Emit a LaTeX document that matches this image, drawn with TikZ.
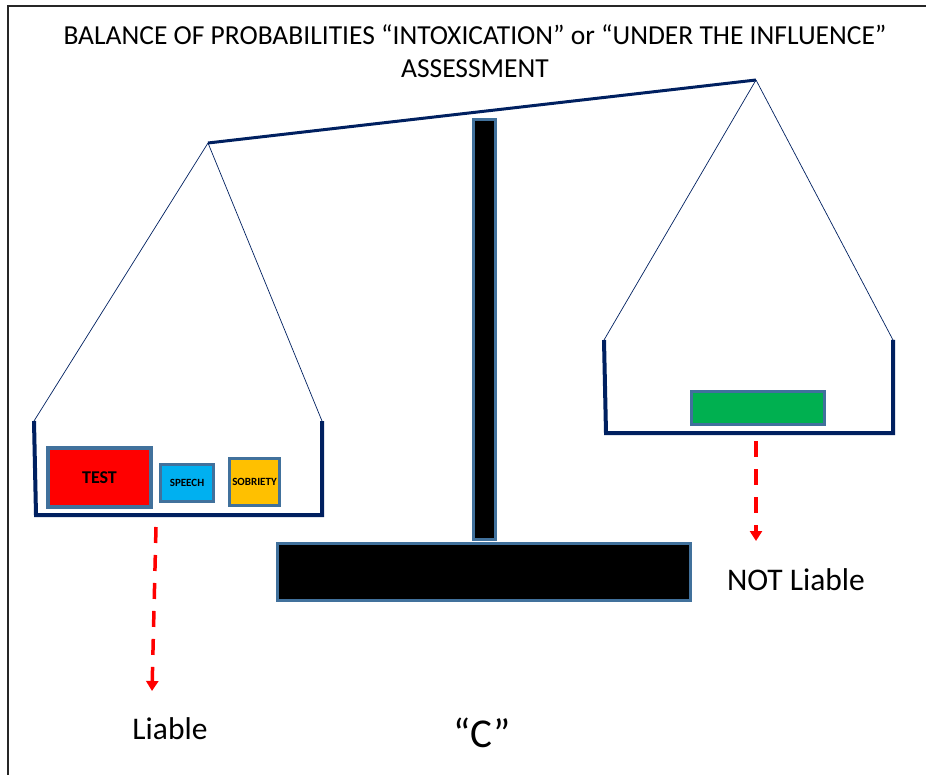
\documentclass[tikz,border=0pt]{standalone}
\usepackage{fontspec}
\setmainfont{Carlito}
\usepackage{xcolor}
\definecolor{navy}{HTML}{002060}
\definecolor{steel}{HTML}{41719C}
\definecolor{wred}{HTML}{FF0000}
\definecolor{wblue}{HTML}{00B0F0}
\definecolor{wgold}{HTML}{FFC000}
\definecolor{wgreen}{HTML}{00B050}
\usetikzlibrary{arrows.meta}
\tikzset{
  frame/.style={draw=black!85,line width=2.5pt},
  beam/.style={draw=navy,line width=3pt},
  cord/.style={draw=navy,line width=0.7pt},
  pan/.style={draw=navy,line width=4pt},
  wt/.style={draw=steel,line width=3pt,inner sep=0pt,font=\bfseries\fontsize{11}{12}\selectfont},
  pillar/.style={draw=steel,fill=black,line width=3pt,inner sep=0pt},
  drop/.style={draw=wred,line width=3.5pt,dash pattern=on 16pt off 12pt,-{Triangle[length=10pt,width=12pt]}},
  lbl/.style={font=\fontsize{31.5}{36}\selectfont,inner sep=0pt},
}
\begin{document}
\begin{tikzpicture}[x=1pt,y=-1pt]
  \useasboundingbox (0,0) rectangle (926,775);
  \draw[frame] (8,775) -- (8,6) -- (926,6);
  \node[font=\fontsize{27.5}{33}\selectfont,align=center] (title) at (475,51)
    {BALANCE OF PROBABILITIES “INTOXICATION” or “UNDER THE INFLUENCE”\\ASSESSMENT};
  % stand
  \node[pillar,minimum width=22pt,minimum height=420pt] (col) at (484.5,329.5) {};
  \node[pillar,minimum width=413pt,minimum height=57pt] (base) at (484,572) {};
  % beam and cords
  \coordinate (bl) at (208,143);
  \coordinate (br) at (756,80);
  \draw[beam] (bl) -- (br);
  \coordinate (l1) at (34,421);
  \coordinate (l2) at (36,515);
  \coordinate (l3) at (322,515);
  \coordinate (l4) at (322,421);
  \coordinate (r1) at (604,340);
  \coordinate (r2) at (606,433);
  \coordinate (r3) at (893,433);
  \coordinate (r4) at (893,340);
  \draw[cord] (bl) -- (l1);
  \draw[cord] (bl) -- (l4);
  \draw[cord] (br) -- (r1);
  \draw[cord] (br) -- (r4);
  \draw[pan] (l1) -- (l2) -- (l3) -- (l4);
  \draw[pan] (r1) -- (r2) -- (r3) -- (r4);
  % weights
  \node[wt,line width=4pt,fill=wred,minimum width=103pt,minimum height=59pt,font=\bfseries\fontsize{18}{20}\selectfont] (test) at (99.5,477.5) {TEST};
  \node[wt,fill=wblue,minimum width=53pt,minimum height=37pt] (speech) at (187,483) {SPEECH};
  \node[wt,fill=wgold,minimum width=50pt,minimum height=47pt] (sobr) at (254.5,482) {SOBRIETY};
  \node[wt,fill=wgreen,minimum width=133pt,minimum height=33pt] (other) at (758,408) {};
  % outcomes
  \node[lbl] (liable) at (170,729) {Liable};
  \node[lbl] (notliable) at (796,580) {NOT Liable};
  \node[lbl,font=\fontsize{41}{44}\selectfont] (c) at (482,733) {“C”};
  \coordinate (la) at (156,527);
  \coordinate (lb) at (152,691);
  \coordinate (ra) at (756,441);
  \coordinate (rb) at (756,541);
  \draw[drop] (la) -- (lb);
  \draw[drop] (ra) -- (rb);
\end{tikzpicture}
\end{document}
